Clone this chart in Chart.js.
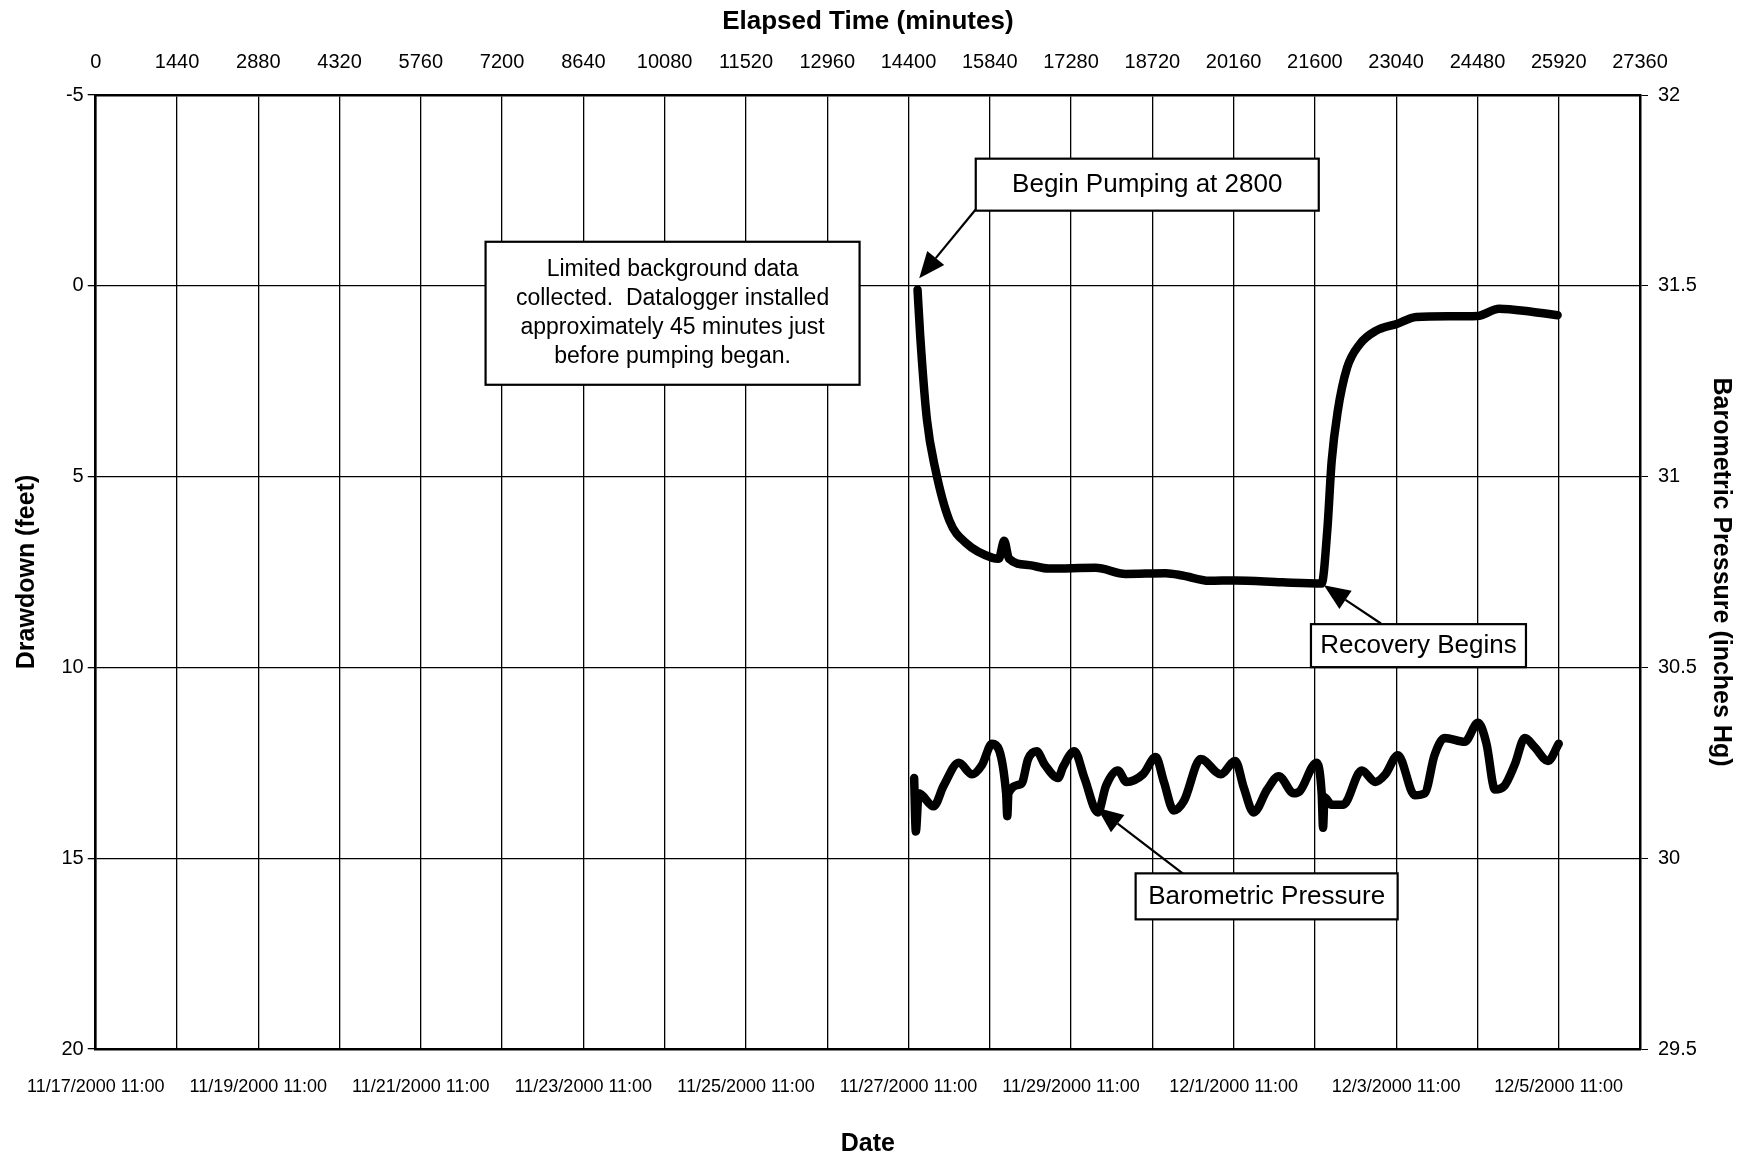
<!DOCTYPE html>
<html>
<head>
<meta charset="utf-8">
<script src="https://cdn.jsdelivr.net/npm/chart.js@4.4.0/dist/chart.umd.min.js"></script>
<style>
html,body{margin:0;padding:0;background:#fff}
</style>
</head>
<body>
<canvas id="c" width="1742" height="1160"></canvas>
<script>
// tick labels
const elapsedTicks=[0,1440,2880,4320,5760,7200,8640,10080,11520,12960,14400,15840,17280,18720,20160,21600,23040,24480,25920,27360];
const dateLabels=['11/17/2000 11:00','11/19/2000 11:00','11/21/2000 11:00','11/23/2000 11:00','11/25/2000 11:00','11/27/2000 11:00','11/29/2000 11:00','12/1/2000 11:00','12/3/2000 11:00','12/5/2000 11:00'];
const dateTickMinutes=[0,2880,5760,8640,11520,14400,17280,20160,23040,25920];
const drawdownTicks=[-5,0,5,10,15,20];
const pressureTicks=[29.5,30,30.5,31,31.5,32];

// drawdown (feet) vs elapsed minutes
const ddTime=[14560,14607,14726,14875,15124,15426,15890,16000,16095,16180,16540,16883,17713,18247,18957,19253,19729,20190,21020,21720,21820,21897,22003,22170,22395,22680,23050,23396,23989,24480,24866,25440,25900];
const ddFeet=[0.1,1.3,3.5,4.8,6.15,6.75,7.13,7.15,6.68,7.15,7.32,7.41,7.39,7.55,7.53,7.59,7.73,7.72,7.77,7.8,6.4,4.6,3.3,2.15,1.53,1.18,1.0,0.82,0.8,0.79,0.6,0.68,0.77];

// barometric pressure (inches Hg) vs elapsed minutes
const bpTime=[14500,14530,14580,14845,15023,15290,15527,15705,15880,16130,16150,16170,16400,16520,16670,16815,17050,17140,17340,17517,17755,17900,18110,18260,18555,18780,18925,19100,19280,19577,19933,20190,20340,20515,20755,20960,21225,21330,21630,21720,21745,21770,21895,22100,22430,22670,22850,23070,23370,23545,23720,23900,24255,24490,24640,24790,24960,25140,25320,25500,25730,25920];
const bpInHg=[30.21,30.07,30.17,30.136,30.19,30.25,30.22,30.245,30.30,30.17,30.11,30.17,30.195,30.26,30.28,30.245,30.21,30.24,30.28,30.21,30.12,30.19,30.23,30.2,30.22,30.265,30.2,30.125,30.15,30.26,30.22,30.255,30.185,30.12,30.18,30.215,30.17,30.175,30.25,30.17,30.08,30.16,30.14,30.14,30.23,30.2,30.22,30.27,30.165,30.17,30.27,30.315,30.305,30.355,30.3,30.18,30.19,30.245,30.315,30.29,30.255,30.3];

const FONT='"Liberation Sans", Arial, sans-serif';

// callout boxes, placed in data units (minutes, feet)
const notes=[
{lines:['Begin Pumping at 2800'],x:18630,y:-2.65,w:343,h:52,size:26,from:[15590,-2.0],to:[14590,-0.2]},
{lines:['Limited background data','collected.  Datalogger installed','approximately 45 minutes just','before pumping began.'],x:10220,y:0.72,w:374,h:143,size:23,lh:29},
{lines:['Recovery Begins'],x:23435,y:9.43,w:215,h:43,size:26,from:[22770,8.85],to:[21760,7.85]},
{lines:['Barometric Pressure'],x:20745,y:16.0,w:262,h:46,size:26,from:[19303,15.45],to:[17740,13.68]}
];

const calloutPlugin={
id:'callouts',
afterDatasetsDraw(chart){
const ctx=chart.ctx,xs=chart.scales.x,ys=chart.scales.yL;
ctx.save();
notes.forEach(n=>{
if(n.from){
const x1=xs.getPixelForValue(n.from[0]),y1=ys.getPixelForValue(n.from[1]);
const x2=xs.getPixelForValue(n.to[0]),y2=ys.getPixelForValue(n.to[1]);
const a=Math.atan2(y2-y1,x2-x1),hl=26,hw=11;
ctx.strokeStyle='#000';ctx.lineWidth=2.2;
ctx.beginPath();ctx.moveTo(x1,y1);ctx.lineTo(x2-Math.cos(a)*hl,y2-Math.sin(a)*hl);ctx.stroke();
ctx.beginPath();
ctx.moveTo(x2,y2);
ctx.lineTo(x2-Math.cos(a)*hl-Math.sin(a)*hw,y2-Math.sin(a)*hl+Math.cos(a)*hw);
ctx.lineTo(x2-Math.cos(a)*hl+Math.sin(a)*hw,y2-Math.sin(a)*hl-Math.cos(a)*hw);
ctx.closePath();ctx.fillStyle='#000';ctx.fill();
}
const cx=xs.getPixelForValue(n.x),cy=ys.getPixelForValue(n.y);
const l=cx-n.w/2,t=cy-n.h/2;
ctx.fillStyle='#fff';ctx.fillRect(l,t,n.w,n.h);
ctx.strokeStyle='#000';ctx.lineWidth=2.2;ctx.strokeRect(l,t,n.w,n.h);
ctx.fillStyle='#000';ctx.font=n.size+'px '+FONT;ctx.textAlign='center';ctx.textBaseline='middle';
const lh=n.lh||n.size*1.2;
n.lines.forEach((s,i)=>ctx.fillText(s,cx,cy+(i-(n.lines.length-1)/2)*lh));
});
ctx.restore();
}
};

new Chart(document.getElementById('c'),{
type:'line',
data:{datasets:[
{label:'Drawdown',data:ddTime.map((t,i)=>({x:t,y:ddFeet[i]})),xAxisID:'x',yAxisID:'yL',borderColor:'#000',borderWidth:8.5,pointRadius:0,cubicInterpolationMode:'monotone',borderCapStyle:'round',borderJoinStyle:'round'},
{label:'Barometric Pressure',data:bpTime.map((t,i)=>({x:t,y:bpInHg[i]})),xAxisID:'x',yAxisID:'yR',borderColor:'#000',borderWidth:8.5,pointRadius:0,cubicInterpolationMode:'monotone',borderCapStyle:'round',borderJoinStyle:'round'}
]},
options:{
responsive:false,animation:false,
layout:{padding:0},
plugins:{legend:{display:false},tooltip:{enabled:false}},
scales:{
x:{type:'linear',position:'bottom',min:0,max:27360,
afterBuildTicks:s=>{s.ticks=dateTickMinutes.map(v=>({value:v}));},
afterFit:s=>{s.height=111;},
ticks:{autoSkip:false,maxRotation:0,padding:27,color:'#000',font:{family:FONT,size:18},callback:(v)=>dateLabels[dateTickMinutes.indexOf(v)]},
grid:{display:false,drawTicks:false},
border:{display:true,color:'#000',width:2.5},
title:{display:true,text:'Date',color:'#000',font:{family:FONT,size:25,weight:'bold'},padding:{top:0,bottom:1}}},
xTop:{type:'linear',position:'top',min:0,max:27360,
afterBuildTicks:s=>{s.ticks=elapsedTicks.map(v=>({value:v}));},
afterFit:s=>{s.height=95;},
ticks:{autoSkip:false,maxRotation:0,padding:21,color:'#000',font:{family:FONT,size:20},callback:v=>String(v)},
grid:{color:'#000',lineWidth:1.3,drawTicks:false},
border:{display:true,color:'#000',width:2.5},
title:{display:true,text:'Elapsed Time (minutes)',color:'#000',font:{family:FONT,size:26,weight:'bold'},padding:{top:6,bottom:0}}},
yL:{type:'linear',position:'left',min:-5,max:20,reverse:true,
afterBuildTicks:s=>{s.ticks=drawdownTicks.map(v=>({value:v}));},
afterFit:s=>{s.width=92;},
ticks:{padding:4,color:'#000',font:{family:FONT,size:20},callback:v=>String(v)},
grid:{color:'#000',lineWidth:1.3,drawTicks:true,tickLength:8,tickColor:'#000'},
border:{display:true,color:'#000',width:2.5},
title:{display:true,text:'Drawdown (feet)',color:'#000',font:{family:FONT,size:25,weight:'bold'},padding:{top:8,bottom:0}}},
yR:{type:'linear',position:'right',min:29.5,max:32,
afterBuildTicks:s=>{s.ticks=pressureTicks.map(v=>({value:v}));},
afterFit:s=>{s.width=102;},
ticks:{padding:10,color:'#000',font:{family:FONT,size:20},callback:v=>String(v)},
grid:{drawOnChartArea:false,color:'#000',drawTicks:true,tickLength:8,tickColor:'#000'},
border:{display:true,color:'#000',width:2.5},
title:{display:true,text:'Barometric Pressure (inches Hg)',color:'#000',font:{family:FONT,size:25,weight:'bold'},padding:{top:6,bottom:0}}}
}
},
plugins:[calloutPlugin]
});
</script>
</body>
</html>
